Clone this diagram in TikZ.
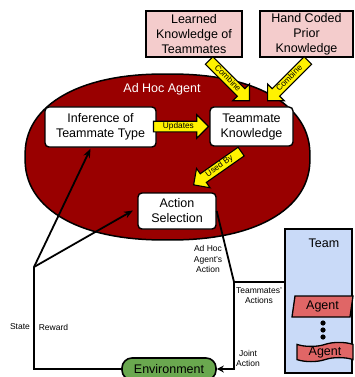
\documentclass[tikz,border=0pt]{standalone}
\usepackage{fontspec}
\setmainfont{Liberation Sans}
\usetikzlibrary{shapes.arrows,shapes.geometric,shapes.symbols,arrows.meta}
\definecolor{agentred}{HTML}{990000}
\definecolor{pinkfill}{HTML}{F4CCCC}
\definecolor{teamblue}{HTML}{C9DAF8}
\definecolor{agentfill}{HTML}{E06666}
\definecolor{envgreen}{HTML}{6AA84F}
\tikzset{
  big/.style={font=\fontsize{12.5}{15}\selectfont},
  small/.style={font=\fontsize{8.5}{10.5}\selectfont, align=center, inner sep=0pt},
  wbox/.style={big, draw, fill=white, rounded corners=4pt, line width=1.4pt, align=center, inner sep=0pt},
  pbox/.style={big, draw, fill=pinkfill, line width=1.4pt, align=center, inner sep=0pt},
  fat/.style={single arrow, draw, fill=yellow, line width=1.1pt, single arrow head extend=6.5pt,
    inner xsep=1pt, inner ysep=1pt, text height=5.8pt, text depth=1.7pt,
    font=\fontsize{8.3}{9}\selectfont},
  conn/.style={line width=1.8pt},
  tip/.style={-{Stealth[length=9pt,width=7pt]}}
}
\begin{document}
\begin{tikzpicture}[x=1pt,y=-1pt]
\useasboundingbox (0,0) rectangle (354,377);
\clip (0,0) rectangle (354,377);

% ad hoc agent region (superellipse)
\coordinate (agent) at (167.5,157);
\draw[fill=agentred, line width=1.5pt] plot[domain=1.5:358.5, samples=120]
  ({167.5+142.5*sign(cos(\x))*pow(abs(cos(\x)),0.88)}, {157+83*sign(sin(\x))*pow(abs(sin(\x)),0.88)}) -- cycle;
\node[big, text=white] (agentlbl) at (162,89) {Ad Hoc Agent};

% pink knowledge boxes
\node[pbox, minimum width=96pt, minimum height=46pt] (learned) at (194,34) {Learned\\Knowledge of\\Teammates};
\node[pbox, minimum width=93pt, minimum height=46pt] (hand) at (306.5,34) {Hand Coded\\Prior\\Knowledge};

% inner boxes
\node[wbox, minimum width=111pt, minimum height=40pt] (inf) at (100.5,127) {Inference of\\Teammate Type};
\node[wbox, minimum width=83pt, minimum height=39pt] (tk) at (251.5,126.5) {Teammate\\Knowledge};
\node[wbox, minimum width=78pt, minimum height=36pt] (act) at (177,211) {Action\\Selection};

% yellow fat arrows
\node[fat, minimum height=55pt, anchor=tip] (upd) at (tk.west) {Updates};
\node[fat, minimum height=57pt, rotate=-45, anchor=tip] (comb1) at ([xshift=-1.5pt,yshift=5pt]tk.north) {Combine};
\node[fat, minimum height=57pt, rotate=45, shape border rotate=180, anchor=tip] (comb2) at ([xshift=15.5pt,yshift=5pt]tk.north) {Combine};
\node[fat, minimum height=58pt, rotate=35, shape border rotate=180, anchor=tip] (used) at ([xshift=16pt,yshift=7pt]act.north) {Used By};

% team
\node[draw, fill=teamblue, line width=1.4pt, minimum width=67pt, minimum height=144pt] (team) at (318.5,301) {};
\node[big] (teamlbl) at (324,243) {Team};
\draw[fill=agentfill, line width=1.3pt] (295,296) -- (353,296) -- (350,317) -- (292,317) -- cycle;
\node[big, inner sep=0pt] (ag1) at (322.5,306.5) {Agent};
\foreach \yy/\nm in {323/d1,330/d2,337/d3} \fill (323,\yy) circle (2.6pt) coordinate (\nm);
\node[tape, draw, fill=agentfill, line width=1.3pt, big, inner sep=0pt, minimum width=56pt, minimum height=19pt, tape bend height=4pt] (ag2) at (325,352) {Agent};

% environment
\node[big, draw, fill=envgreen, rounded corners=10pt, line width=1.6pt, minimum width=94pt, minimum height=22pt, inner sep=0pt] (env) at (169,369) {Environment};

% connectors
\coordinate (hub) at (34,267);
\coordinate (jn) at (234,282);
\draw[conn, tip] (hub) -- ([xshift=-10pt,yshift=-1pt]inf.south);
\draw[conn, tip, shorten >=5pt] (hub) -- ([yshift=3pt]act.west);
\draw[conn, line join=miter] (hub) |- (env.west);
\draw[conn, line join=miter] (act.east) -- (jn);
\draw[conn, line join=miter, -{Stealth[length=7pt,width=7pt]}] (jn) |- (env.east);
\draw[line width=1.4pt] (jn) -- (jn -| team.west);

% labels
\node[small] (lstate) at (20,327) {State};
\node[small] (lreward) at (53.5,327) {Reward};
\node[small] (ladhoc) at (208,259) {Ad Hoc\\Agent's\\Action};
\node[small] (lteam) at (259,295.5) {Teammates'\\Actions};
\node[small] (ljoint) at (248,358.5) {Joint\\Action};
\end{tikzpicture}
\end{document}
